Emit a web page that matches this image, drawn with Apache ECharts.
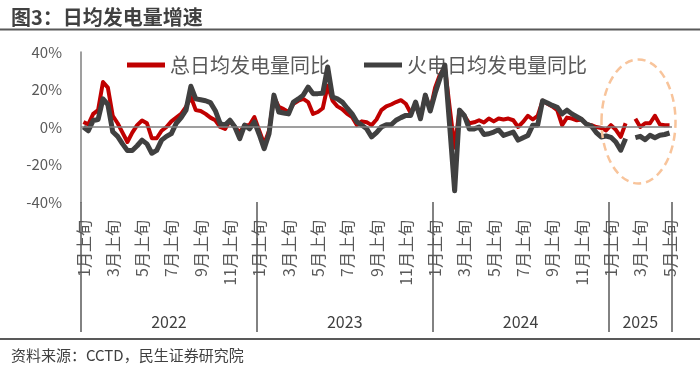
<!DOCTYPE html>
<html>
<head>
<meta charset="utf-8">
<script src="https://cdn.jsdelivr.net/npm/echarts@6/dist/echarts.min.js"></script>
<style>html,body{margin:0;padding:0;background:#fff;}#c{width:700px;height:367px;}</style>
</head>
<body>
<div id="c"></div>
<script>
// ---- data ----
const years = ['2022', '2023', '2024', '2025'];
const yearCounts = [36, 36, 36, 13];           // dekads per year shown
const dekads = ['上旬', '中旬', '下旬'];
const seriesNames = ['总日均发电量同比', '火电日均发电量同比'];
const yTicks = [-40, -20, 0, 20, 40];

const totalYoY = [
  2.7, 1.4, 7, 9, 24, 21, 6, 2, -3, -8, -3, 1, 3.5, 2, -6, -6, -2, 0, 3, 5, 7, 10.7, 16, 9, 8.5, 7, 5, 3.6, 0, -1, 3.5, 0, -3, 1, 1, 5.3,
  -2, -9, -2, 16, 10.7, 9.5, 8, 12.4, 14, 15, 13.3, 7, 8, 10, 22, 14, 11, 9.5, 7, 5.3, 1, 3, 2.5, 1, 4, 9, 11, 12, 13.3, 14.3, 12.4, 7.5, 12, 5, 17, 9,
  21, 28, 32, 10, -11, 9, 6, 2, 2.5, 3.6, 2.4, 4.5, 3, 4.5, 4, 4.5, 3.6, 0, 2.7, 6, 4, 6, 14, 12.4, 11, 9, 1, 5, 4.5, 3.6, 4, 1.5, 1, 0, -0.5, -1.8,
  1, -1.5, -5.3, 2, null, 4.4, 0, 2, 2, 6, 1.4, 0.9, 0.9
];
const thermalYoY = [
  0, -2, 3.5, 4, 15, 12, -2.5, -5, -9, -12.5, -12.5, -10, -7, -9, -14, -12.5, -7, -5, -3.5, 2, 5, 9, 21.7, 15, 14.5, 14, 13, 8.7, 1.8, 1, 3.6, 0, -6.2, 1, -1, 2.7,
  -4, -11.6, -3.6, 17, 8, 7.5, 7, 13.3, 15, 17, 21.3, 17.8, 17.8, 18, 32, 16, 15, 13.3, 10, 7, 2.7, 1, -1, -5.3, -3, 0, 1.2, 1.2, 3.6, 5, 6.2, 6.2, 13.3, 4.4, 17, 8.5,
  18, 26, 33, 0, -34, 9, 6, -1, -1, 0, -4, -3.6, -2.7, -1.5, -4.5, -3.6, -2.7, -7, -5.7, -4.5, 1, 1, 14, 12.8, 11.5, 10.5, 7, 9, 7, 5.5, 4, 1.5, 0.5, -3, -5.3, -4.8,
  -5.5, -8, -12.4, -6.2, null, -5.7, -5, -6.8, -4.4, -5.7, -4.4, -4, -3.2
];

// ---- derived category list / year boundaries ----
const categories = [];
const yearBounds = [0];
const yearCenters = [];
years.forEach((y, yi) => {
  const start = categories.length;
  for (let k = 0; k < yearCounts[yi]; k++) {
    const m = Math.floor(k / 3) + 1;
    categories.push(m + '月' + dekads[k % 3]);
  }
  yearBounds.push(categories.length);
  yearCenters.push((start + categories.length) / 2);
});
const N = categories.length;

const FONT = '"Noto Sans CJK SC", "Noto Sans", sans-serif';
const chart = echarts.init(document.getElementById('c'), null, {renderer: 'canvas'});

chart.setOption({
  backgroundColor: '#ffffff',
  animation: false,
  textStyle: {fontFamily: FONT},
  title: {
    text: '图3：日均发电量增速',
    left: 11, top: 7, padding: 0,
    textStyle: {fontSize: 20, fontWeight: 'bold', color: '#404040', fontFamily: FONT}
  },
  legend: {
    left: 127, top: 55, padding: 0,
    itemGap: 34,
    itemWidth: 38, itemHeight: 5,
    icon: 'rect',
    textStyle: {fontSize: 20, color: '#595959', fontFamily: FONT},
    data: seriesNames
  },
  grid: {left: 81, right: 28, top: 52, bottom: 165, containLabel: false},
  xAxis: [
    {
      type: 'category',
      data: categories,
      boundaryGap: true,
      position: 'bottom',
      axisLine: {show: false, onZero: false},
      axisTick: {show: false},
      axisLabel: {
        interval: (i) => i % 6 === 0,
        rotate: 90,
        margin: 18,
        fontSize: 16,
        color: '#595959',
        fontFamily: FONT
      },
      splitLine: {show: false}
    },
    {
      type: 'value',
      min: 0, max: N,
      position: 'bottom',
      axisLine: {show: false, onZero: false},
      axisTick: {
        show: true, inside: false, length: 130,
        customValues: yearBounds,
        lineStyle: {color: '#595959', width: 1.5}
      },
      axisLabel: {
        customValues: yearCenters,
        margin: 112,
        fontSize: 16,
        color: '#404040',
        fontFamily: FONT,
        formatter: (v) => {
          const idx = yearCenters.findIndex(c => Math.abs(c - v) < 0.01);
          return idx >= 0 ? years[idx] : '';
        }
      },
      splitLine: {show: false}
    }
  ],
  yAxis: {
    type: 'value',
    min: yTicks[0], max: yTicks[yTicks.length - 1], interval: 20,
    axisLine: {show: true, lineStyle: {color: '#7f7f7f', width: 1.5}},
    axisTick: {show: false},
    splitLine: {show: false},
    axisLabel: {
      formatter: '{value}%',
      fontSize: 15,
      color: '#595959',
      margin: 19,
      fontFamily: FONT
    }
  },
  series: [
    {
      name: seriesNames[0],
      type: 'line',
      data: totalYoY,
      xAxisIndex: 0,
      symbol: 'none',
      connectNulls: false,
      lineStyle: {color: '#C00000', width: 4, join: 'round'},
      itemStyle: {color: '#C00000'},
      markLine: {
        silent: true,
        symbol: 'none',
        label: {show: false},
        lineStyle: {color: '#7f7f7f', width: 1.5, type: 'solid'},
        data: [{yAxis: 0}]
      },
      z: 3
    },
    {
      name: seriesNames[1],
      type: 'line',
      data: thermalYoY,
      xAxisIndex: 0,
      symbol: 'none',
      connectNulls: false,
      lineStyle: {color: '#404040', width: 5, join: 'round'},
      itemStyle: {color: '#404040'},
      z: 4
    }
  ],
  graphic: [
    {type: 'line', shape: {x1: 0, y1: 29.5, x2: 700, y2: 29.5}, style: {stroke: '#595959', lineWidth: 2}, silent: true},
    {type: 'line', shape: {x1: 0, y1: 339, x2: 700, y2: 339}, style: {stroke: '#595959', lineWidth: 2}, silent: true},
    {type: 'text', x: 11, y: 355, style: {text: '资料来源：CCTD，民生证券研究院', font: '15px ' + FONT, fill: '#404040', textVerticalAlign: 'middle'}, silent: true},
    {type: 'ellipse', shape: {cx: 638.5, cy: 121.5, rx: 37, ry: 62}, style: {fill: 'none', stroke: '#F8C49B', lineWidth: 2.5, lineDash: [8, 5]}, z: 10, silent: true}
  ]
});
</script>
</body>
</html>
